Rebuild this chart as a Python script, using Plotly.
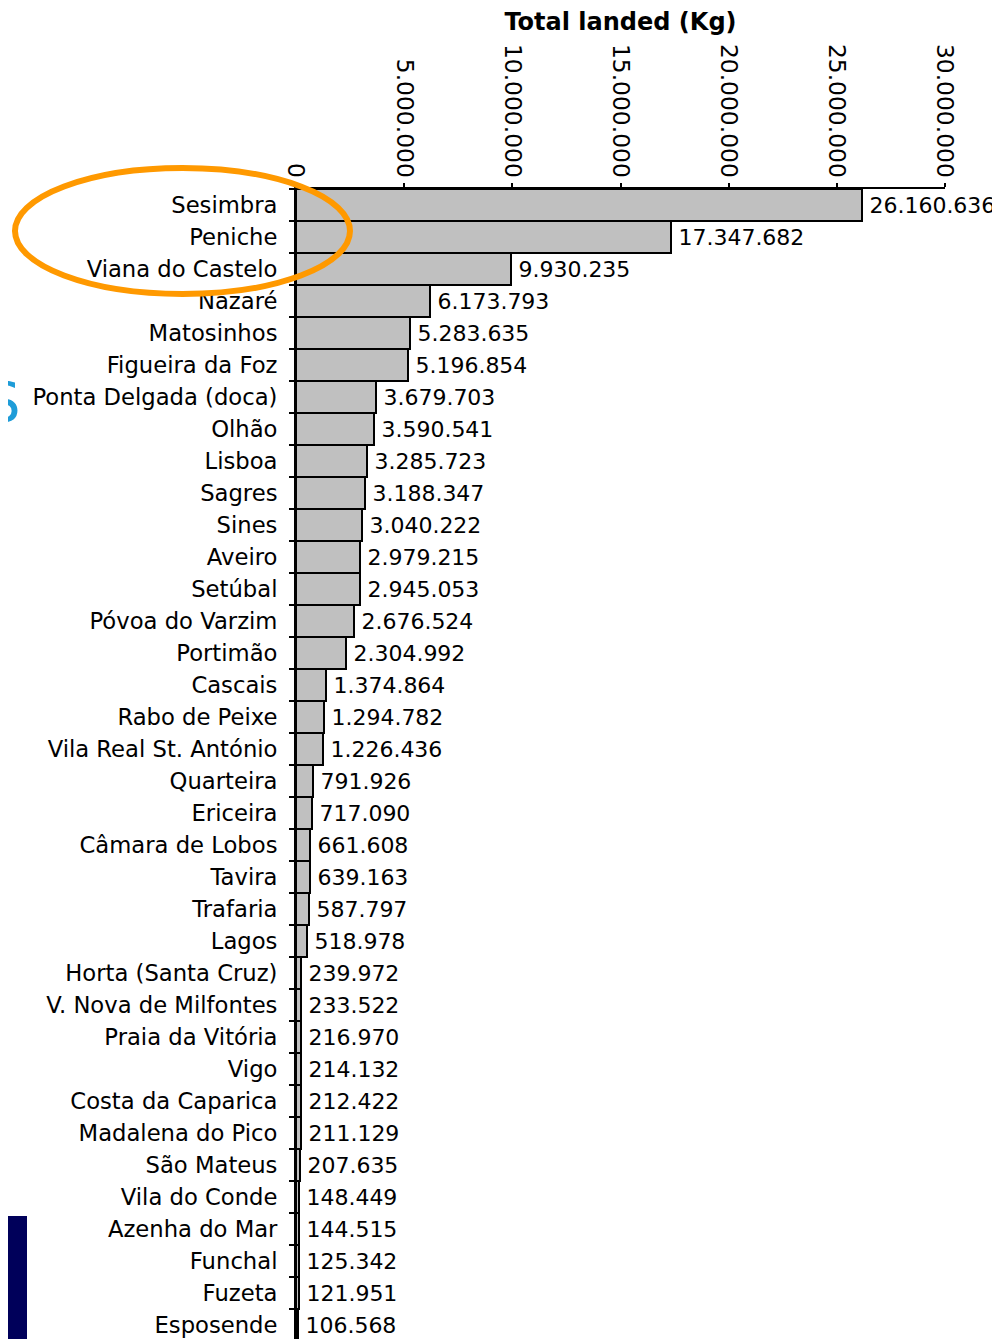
import plotly.graph_objects as go

ports = [
    "Sesimbra", "Peniche", "Viana do Castelo", "Nazaré", "Matosinhos",
    "Figueira da Foz", "Ponta Delgada (doca)", "Olhão", "Lisboa", "Sagres",
    "Sines", "Aveiro", "Setúbal", "Póvoa do Varzim", "Portimão", "Cascais",
    "Rabo de Peixe", "Vila Real St. António", "Quarteira", "Ericeira",
    "Câmara de Lobos", "Tavira", "Trafaria", "Lagos", "Horta (Santa Cruz)",
    "V. Nova de Milfontes", "Praia da Vitória", "Vigo", "Costa da Caparica",
    "Madalena do Pico", "São Mateus", "Vila do Conde", "Azenha do Mar",
    "Funchal", "Fuzeta", "Esposende",
]
landed_kg = [
    26160636, 17347682, 9930235, 6173793, 5283635,
    5196854, 3679703, 3590541, 3285723, 3188347,
    3040222, 2979215, 2945053, 2676524, 2304992, 1374864,
    1294782, 1226436, 791926, 717090,
    661608, 639163, 587797, 518978, 239972,
    233522, 216970, 214132, 212422,
    211129, 207635, 148449, 144515,
    125342, 121951, 106568,
]
x_ticks = [0, 5000000, 10000000, 15000000, 20000000, 25000000, 30000000]

# page body adds an 8px offset around the figure
OFF = 8
W, H = 1000 - OFF, 1339 - OFF
L, R, T, B = 296 - OFF, 55, 189 - OFF, 0
pw, ph = W - L - R, H - T - B


def px_x(x):
    # page pixel -> paper coordinate
    return (x - OFF - L) / pw


def px_y(y):
    return 1 - (y - OFF - T) / ph


fig = go.Figure()
fig.add_trace(go.Bar(
    y=ports,
    x=landed_kg,
    orientation="h",
    marker=dict(color="#c0c0c0", line=dict(color="black", width=2)),
    texttemplate="\u2009%{x:,d}",
    textposition="outside",
    textfont=dict(color="black", size=22),
    cliponaxis=False,
    showlegend=False,
))

# orange highlight around the top three ports
fig.add_shape(
    type="circle", xref="paper", yref="paper",
    x0=px_x(15), x1=px_x(350), y0=px_y(294), y1=px_y(168),
    line=dict(color="#ff9900", width=6),
)
# background leftovers from the slide
fig.add_shape(
    type="rect", xref="paper", yref="paper",
    x0=px_x(0), x1=px_x(27), y0=px_y(1339), y1=px_y(1216),
    fillcolor="#00005a", line=dict(width=0), layer="below",
)
fig.add_annotation(
    x=px_x(3), y=px_y(402), xref="paper", yref="paper",
    text="S", showarrow=False, xanchor="center", yanchor="middle",
    font=dict(family="DejaVu Sans", size=56, color="#1e9cd8"),
)

fig.update_layout(
    width=W, height=H,
    margin=dict(l=L, r=R, t=T, b=B, pad=0),
    plot_bgcolor="white", paper_bgcolor="white",
    separators=",.",
    bargap=0,
    font=dict(family="DejaVu Sans", size=22.7, color="black"),
    xaxis=dict(
        side="top",
        range=[0, 30000000],
        tickvals=x_ticks,
        tickformat=",d",
        tickangle=90,
        tickfont=dict(size=23.4),
        ticks="outside", ticklen=4, tickwidth=2, tickcolor="black",
        ticklabelstandoff=-3,
        showline=True, linecolor="black", linewidth=2,
        showgrid=False, zeroline=False,
        title=dict(text="<b>Total landed (Kg)</b>", font=dict(size=24), standoff=8),
    ),
    yaxis=dict(
        categoryorder="array", categoryarray=ports,
        range=[35.44, -0.5],
        tickson="boundaries",
        ticks="outside", ticklen=5, tickwidth=2, tickcolor="black",
        ticklabelstandoff=12,
        showline=True, linecolor="black", linewidth=2,
        showgrid=False, zeroline=False,
    ),
)

fig.write_html("out.html")
